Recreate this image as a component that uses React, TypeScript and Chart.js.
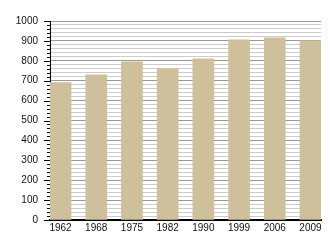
import React, { useEffect, useRef } from "react";
import { Chart, registerables } from "chart.js";

Chart.register(...registerables);

const years = ["1962", "1968", "1975", "1982", "1990", "1999", "2006", "2009"];
const values = [690, 730, 795, 760, 810, 905, 915, 900];
const yMax = 1000;
const majorStep = 100;
const minorStep = 20;

const minorTicks = {
  id: "minorTicks",
  afterDraw(chart: any) {
    const y = chart.scales.y;
    const ctx = chart.ctx;
    const left = chart.chartArea.left;
    ctx.save();
    ctx.strokeStyle = "#000";
    ctx.lineWidth = 1;
    for (let v = 0; v <= yMax; v += minorStep) {
      const py = Math.round(y.getPixelForValue(v)) + 0.5;
      const len = v % majorStep === 0 ? 6 : 3;
      ctx.beginPath();
      ctx.moveTo(left - len, py);
      ctx.lineTo(left, py);
      ctx.stroke();
    }
    ctx.restore();
  },
};

export default function App() {
  const ref = useRef<HTMLCanvasElement>(null);
  useEffect(() => {
    document.body.style.margin = "0";
    const chart = new Chart(ref.current!, {
      type: "bar",
      data: {
        datasets: [
          {
            data: values.map((v, i) => ({ x: i, y: v })),
            backgroundColor: "#cdc09b",
            borderWidth: 0,
            barThickness: 21,
          },
        ],
      },
      options: {
        animation: false,
        responsive: false,
        maintainAspectRatio: false,
        layout: { padding: { left: 0, right: 9, top: 21, bottom: 0 } },
        plugins: { legend: { display: false }, tooltip: { enabled: false } },
        scales: {
          x: {
            type: "linear",
            offset: false,
            min: -0.295,
            max: years.length - 1 + 0.295,
            afterBuildTicks: (s: any) => {
              s.ticks = years.map((_, i) => ({ value: i }));
            },
            afterFit: (s: any) => {
              s.height = 30;
            },
            ticks: {
              callback: (v: any) => years[v] ?? "",
              font: { family: "Liberation Sans", size: 10 },
              color: "#111",
              padding: 2,
              maxRotation: 0,
              autoSkip: false,
            },
            grid: { display: false, drawTicks: false },
            border: { display: true, color: "#000", width: 2 },
          },
          y: {
            min: 0,
            max: yMax,
            afterFit: (s: any) => {
              s.width = 50;
            },
            ticks: {
              stepSize: minorStep,
              autoSkip: false,
              callback: (v: any) => (v % majorStep === 0 ? String(v) : ""),
              font: { family: "Liberation Sans", size: 10 },
              color: "#111",
              padding: 6,
            },
            grid: {
              color: (c: any) =>
                c.tick && c.tick.value % majorStep === 0 ? "#999999" : "#cccccc",
              lineWidth: 1,
              drawTicks: true,
              tickLength: 6,
              tickColor: "rgba(0,0,0,0)",
            },
            border: { display: true, color: "#000", width: 1 },
          },
        },
      },
      plugins: [minorTicks],
    });
    return () => chart.destroy();
  }, []);
  return <canvas ref={ref} width={330} height={250} style={{ display: "block" }} />;
}
